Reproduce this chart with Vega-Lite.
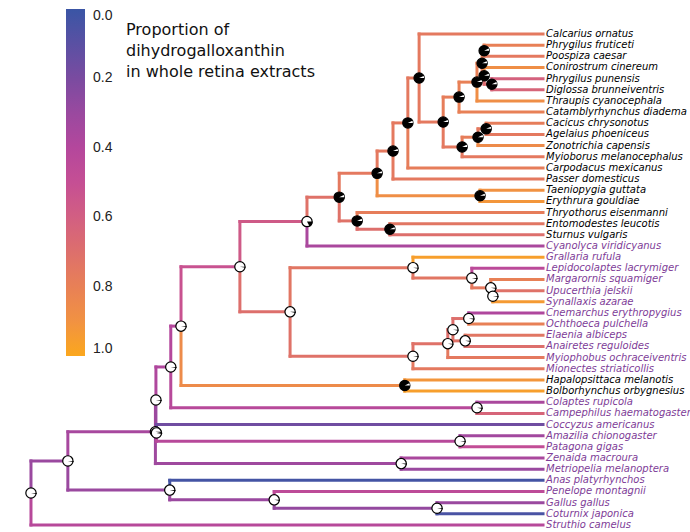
{
  "$schema": "https://vega.github.io/schema/vega-lite/v6.json",
  "width": 690,
  "height": 532,
  "padding": 0,
  "autosize": {"type": "none"},
  "background": "white",
  "config": {"view": {"stroke": null}},
  "title": {
    "text": ["Proportion of", "dihydrogalloxanthin", "in whole retina extracts"],
    "orient": "none", "anchor": "start", "frame": "group", "offset": 0,
    "dx": 126, "dy": 22, "align": "left", "baseline": "top",
    "font": "DejaVu Sans", "fontSize": 16, "fontWeight": "normal", "lineHeight": 21, "color": "#111111"
  },
  "resolve": {"scale": {"theta": "independent"}},
  "data": {"values": [
    {"id": "root", "x": 0, "y": 42.13, "pb": 0.03},
    {"id": "LL", "x": 7.2, "y": 39.26, "px": 0, "py": 42.13, "v": 0.3, "pb": 0.03},
    {"id": "GA", "x": 27.1, "y": 41.875, "px": 7.2, "py": 39.26, "v": 0.3, "pb": 0.03},
    {"id": "GF", "x": 47.5, "y": 42.75, "px": 27.1, "py": 41.875, "v": 0.3, "pb": 0.03},
    {"id": "PH", "x": 79.3, "y": 43.5, "px": 47.5, "py": 42.75, "v": 0.28, "pb": 0.03},
    {"id": "JJ", "x": 24.3, "y": 36.65, "px": 7.2, "py": 39.26, "v": 0.35, "pb": 0.03},
    {"id": "II", "x": 24.4, "y": 33.8, "px": 24.3, "py": 36.65, "v": 0.36, "pb": 0.03},
    {"id": "NN", "x": 24.5, "y": 36.75, "px": 24.4, "py": 33.8, "v": 0.3, "pb": 0.03},
    {"id": "DV", "x": 72.3, "y": 39.5, "px": 24.3, "py": 36.65, "v": 0.32, "pb": 0.03},
    {"id": "HB", "x": 83.8, "y": 37.5, "px": 24.5, "py": 36.75, "v": 0.42, "pb": 0.03},
    {"id": "GG", "x": 27.3, "y": 30.84, "px": 24.4, "py": 33.8, "v": 0.38, "pb": 0.03},
    {"id": "HH", "x": 87.1, "y": 34.5, "px": 27.3, "py": 30.84, "v": 0.42, "pb": 0.03},
    {"id": "EE", "x": 29.3, "y": 27.18, "px": 27.3, "py": 30.84, "v": 0.4, "pb": 0.03},
    {"id": "FF", "x": 73.0, "y": 32.5, "px": 29.3, "py": 27.18, "v": 0.86, "pb": 0.93},
    {"id": "T", "x": 40.8, "y": 21.86, "px": 29.3, "py": 27.18, "v": 0.52, "pb": 0.03},
    {"id": "U", "x": 50.6, "y": 25.9, "px": 40.8, "py": 21.86, "v": 0.7, "pb": 0.03},
    {"id": "V", "x": 74.6, "y": 21.94, "px": 50.6, "py": 25.9, "v": 0.74, "pb": 0.03},
    {"id": "X", "x": 86.1, "y": 22.875, "px": 74.6, "py": 21.94, "v": 0.74, "pb": 0.03},
    {"id": "Y", "x": 89.8, "y": 23.75, "px": 86.1, "py": 22.875, "v": 0.76, "pb": 0.03},
    {"id": "Z", "x": 90.2, "y": 24.5, "px": 89.8, "py": 23.75, "v": 0.76, "pb": 0.03},
    {"id": "W", "x": 74.6, "y": 29.875, "px": 50.6, "py": 25.9, "v": 0.72, "pb": 0.03},
    {"id": "AA", "x": 81.4, "y": 28.75, "px": 74.6, "py": 29.875, "v": 0.72, "pb": 0.03},
    {"id": "DD", "x": 82.4, "y": 27.5, "px": 81.4, "py": 28.75, "v": 0.7, "pb": 0.03},
    {"id": "BB", "x": 85.5, "y": 26.5, "px": 82.4, "py": 27.5, "v": 0.7, "pb": 0.03},
    {"id": "CC", "x": 84.8, "y": 28.5, "px": 82.4, "py": 27.5, "v": 0.72, "pb": 0.03},
    {"id": "S", "x": 53.9, "y": 17.81, "px": 40.8, "py": 21.86, "v": 0.57, "pb": 0.17},
    {"id": "P", "x": 60.2, "y": 15.62, "px": 53.9, "py": 17.81, "v": 0.72, "pb": 0.93},
    {"id": "Q", "x": 63.7, "y": 17.75, "px": 60.2, "py": 15.62, "v": 0.72, "pb": 0.93},
    {"id": "R", "x": 70.1, "y": 18.5, "px": 63.7, "py": 17.75, "v": 0.7, "pb": 0.93},
    {"id": "N", "x": 67.6, "y": 13.49, "px": 60.2, "py": 15.62, "v": 0.76, "pb": 0.93},
    {"id": "O", "x": 87.7, "y": 15.5, "px": 67.6, "py": 13.49, "v": 0.88, "pb": 0.93},
    {"id": "M", "x": 70.7, "y": 11.49, "px": 67.6, "py": 13.49, "v": 0.76, "pb": 0.93},
    {"id": "L", "x": 73.6, "y": 8.97, "px": 70.7, "py": 11.49, "v": 0.76, "pb": 0.93},
    {"id": "A", "x": 75.8, "y": 4.945, "px": 73.6, "py": 8.97, "v": 0.76, "pb": 0.93},
    {"id": "B", "x": 80.5, "y": 8.89, "px": 75.8, "py": 4.945, "v": 0.76, "pb": 0.93},
    {"id": "C", "x": 83.6, "y": 6.656, "px": 80.5, "py": 8.89, "v": 0.78, "pb": 0.93},
    {"id": "D", "x": 84.2, "y": 11.125, "px": 80.5, "py": 8.89, "v": 0.76, "pb": 0.93},
    {"id": "E", "x": 87.1, "y": 5.3125, "px": 83.6, "py": 6.656, "v": 0.8, "pb": 0.93},
    {"id": "F", "x": 88.1, "y": 3.625, "px": 87.1, "py": 5.3125, "v": 0.8, "pb": 0.93},
    {"id": "G", "x": 88.5, "y": 2.5, "px": 88.1, "py": 3.625, "v": 0.8, "pb": 0.93},
    {"id": "I", "x": 88.5, "y": 4.75, "px": 88.1, "py": 3.625, "v": 0.78, "pb": 0.93},
    {"id": "H", "x": 90.0, "y": 5.5, "px": 88.5, "py": 4.75, "v": 0.68, "pb": 0.93},
    {"id": "J", "x": 87.3, "y": 10.25, "px": 84.2, "py": 11.125, "v": 0.78, "pb": 0.93},
    {"id": "K", "x": 88.9, "y": 9.5, "px": 87.3, "py": 10.25, "v": 0.76, "pb": 0.93},
    {"label": "Calcarius ornatus", "x": 100, "y": 1, "px": 75.8, "py": 4.945, "v": 0.76, "grp": "b"},
    {"label": "Phrygilus fruticeti", "x": 100, "y": 2, "px": 88.5, "py": 2.5, "v": 0.8, "grp": "b"},
    {"label": "Poospiza caesar", "x": 100, "y": 3, "px": 88.5, "py": 2.5, "v": 0.76, "grp": "b"},
    {"label": "Conirostrum cinereum", "x": 100, "y": 4, "px": 88.5, "py": 4.75, "v": 0.88, "grp": "b"},
    {"label": "Phrygilus punensis", "x": 100, "y": 5, "px": 90.0, "py": 5.5, "v": 0.62, "grp": "b"},
    {"label": "Diglossa brunneiventris", "x": 100, "y": 6, "px": 90.0, "py": 5.5, "v": 0.64, "grp": "b"},
    {"label": "Thraupis cyanocephala", "x": 100, "y": 7, "px": 87.1, "py": 5.3125, "v": 0.88, "grp": "b"},
    {"label": "Catamblyrhynchus diadema", "x": 100, "y": 8, "px": 83.6, "py": 6.656, "v": 0.8, "grp": "b"},
    {"label": "Cacicus chrysonotus", "x": 100, "y": 9, "px": 88.9, "py": 9.5, "v": 0.78, "grp": "b"},
    {"label": "Agelaius phoeniceus", "x": 100, "y": 10, "px": 88.9, "py": 9.5, "v": 0.76, "grp": "b"},
    {"label": "Zonotrichia capensis", "x": 100, "y": 11, "px": 87.3, "py": 10.25, "v": 0.86, "grp": "b"},
    {"label": "Myioborus melanocephalus", "x": 100, "y": 12, "px": 84.2, "py": 11.125, "v": 0.76, "grp": "b"},
    {"label": "Carpodacus mexicanus", "x": 100, "y": 13, "px": 73.6, "py": 8.97, "v": 0.78, "grp": "b"},
    {"label": "Passer domesticus", "x": 100, "y": 14, "px": 70.7, "py": 11.49, "v": 0.76, "grp": "b"},
    {"label": "Taeniopygia guttata", "x": 100, "y": 15, "px": 87.7, "py": 15.5, "v": 0.9, "grp": "b"},
    {"label": "Erythrura gouldiae", "x": 100, "y": 16, "px": 87.7, "py": 15.5, "v": 0.92, "grp": "b"},
    {"label": "Thryothorus eisenmanni", "x": 100, "y": 17, "px": 63.7, "py": 17.75, "v": 0.78, "grp": "b"},
    {"label": "Entomodestes leucotis", "x": 100, "y": 18, "px": 70.1, "py": 18.5, "v": 0.74, "grp": "b"},
    {"label": "Sturnus vulgaris", "x": 100, "y": 19, "px": 70.1, "py": 18.5, "v": 0.7, "grp": "b"},
    {"label": "Cyanolyca viridicyanus", "x": 100, "y": 20, "px": 53.9, "py": 17.81, "v": 0.36, "grp": "p"},
    {"label": "Grallaria rufula", "x": 100, "y": 21, "px": 74.6, "py": 21.94, "v": 0.96, "grp": "p"},
    {"label": "Lepidocolaptes lacrymiger", "x": 100, "y": 22, "px": 86.1, "py": 22.875, "v": 0.44, "grp": "p"},
    {"label": "Margarornis squamiger", "x": 100, "y": 23, "px": 89.8, "py": 23.75, "v": 0.8, "grp": "p"},
    {"label": "Upucerthia jelskii", "x": 100, "y": 24, "px": 90.2, "py": 24.5, "v": 0.72, "grp": "p"},
    {"label": "Synallaxis azarae", "x": 100, "y": 25, "px": 90.2, "py": 24.5, "v": 0.94, "grp": "p"},
    {"label": "Cnemarchus erythropygius", "x": 100, "y": 26, "px": 85.5, "py": 26.5, "v": 0.38, "grp": "p"},
    {"label": "Ochthoeca pulchella", "x": 100, "y": 27, "px": 85.5, "py": 26.5, "v": 0.8, "grp": "p"},
    {"label": "Elaenia albiceps", "x": 100, "y": 28, "px": 84.8, "py": 28.5, "v": 0.74, "grp": "p"},
    {"label": "Anairetes reguloides", "x": 100, "y": 29, "px": 84.8, "py": 28.5, "v": 0.7, "grp": "p"},
    {"label": "Myiophobus ochraceiventris", "x": 100, "y": 30, "px": 81.4, "py": 28.75, "v": 0.76, "grp": "p"},
    {"label": "Mionectes striaticollis", "x": 100, "y": 31, "px": 74.6, "py": 29.875, "v": 0.76, "grp": "p"},
    {"label": "Hapalopsittaca melanotis", "x": 100, "y": 32, "px": 73.0, "py": 32.5, "v": 0.92, "grp": "b"},
    {"label": "Bolborhynchus orbygnesius", "x": 100, "y": 33, "px": 73.0, "py": 32.5, "v": 0.96, "grp": "b"},
    {"label": "Colaptes rupicola", "x": 100, "y": 34, "px": 87.1, "py": 34.5, "v": 0.36, "grp": "p"},
    {"label": "Campephilus haematogaster", "x": 100, "y": 35, "px": 87.1, "py": 34.5, "v": 0.64, "grp": "p"},
    {"label": "Coccyzus americanus", "x": 100, "y": 36, "px": 24.5, "py": 36.75, "v": 0.17, "grp": "p"},
    {"label": "Amazilia chionogaster", "x": 100, "y": 37, "px": 83.8, "py": 37.5, "v": 0.33, "grp": "p"},
    {"label": "Patagona gigas", "x": 100, "y": 38, "px": 83.8, "py": 37.5, "v": 0.48, "grp": "p"},
    {"label": "Zenaida macroura", "x": 100, "y": 39, "px": 72.3, "py": 39.5, "v": 0.36, "grp": "p"},
    {"label": "Metriopelia melanoptera", "x": 100, "y": 40, "px": 72.3, "py": 39.5, "v": 0.3, "grp": "p"},
    {"label": "Anas platyrhynchos", "x": 100, "y": 41, "px": 27.1, "py": 41.875, "v": 0.03, "grp": "p"},
    {"label": "Penelope montagnii", "x": 100, "y": 42, "px": 47.5, "py": 42.75, "v": 0.45, "grp": "p"},
    {"label": "Gallus gallus", "x": 100, "y": 43, "px": 79.3, "py": 43.5, "v": 0.3, "grp": "p"},
    {"label": "Coturnix japonica", "x": 100, "y": 44, "px": 79.3, "py": 43.5, "v": 0.05, "grp": "p"},
    {"label": "Struthio camelus", "x": 100, "y": 45, "px": 0, "py": 42.13, "v": 0.42, "grp": "p"}
  ]},
  "layer": [
    {
      "transform": [{"filter": "datum.px != null"}],
      "mark": {"type": "rule", "strokeWidth": 3, "strokeCap": "square"},
      "encoding": {
        "x": {"field": "px", "type": "quantitative", "scale": {"domain": [-6.05, 128.7], "nice": false, "zero": false}, "axis": null},
        "y": {"field": "py", "type": "quantitative", "scale": {"domain": [-2.047, 45.63], "nice": false, "zero": false, "reverse": true}, "axis": null},
        "y2": {"field": "y"},
        "color": {
          "field": "v", "type": "quantitative",
          "scale": {"domain": [1, 0], "interpolate": "rgb", "range": ["#fba71d", "#f19242", "#e88056", "#dd6f6c", "#d25f82", "#c54f94", "#b4479c", "#9a499f", "#7a4ba0", "#5a50a3", "#3a55a5"]},
          "legend": {
            "orient": "none", "legendX": 66, "legendY": 9, "direction": "vertical",
            "gradientLength": 347, "gradientThickness": 19, "gradientStrokeWidth": 0,
            "values": [0, 0.2, 0.4, 0.6, 0.8, 1], "format": ".1f",
            "labelFont": "Liberation Sans", "labelFontSize": 14, "labelColor": "#222222", "labelOffset": 8, "labelOverlap": false,
            "title": null, "padding": 0
          }
        }
      }
    },
    {
      "transform": [{"filter": "datum.px != null"}],
      "mark": {"type": "rule", "strokeWidth": 3, "strokeCap": "square"},
      "encoding": {
        "x": {"field": "px", "type": "quantitative"},
        "x2": {"field": "x"},
        "y": {"field": "y", "type": "quantitative"},
        "color": {"field": "v", "type": "quantitative"}
      }
    },
    {
      "transform": [{"filter": "datum.pb != null && datum.pb < 0.5"}],
      "mark": {"type": "point", "shape": "circle", "filled": true, "fill": "white", "stroke": "black", "strokeWidth": 1.2, "size": 106, "opacity": 1},
      "encoding": {
        "x": {"field": "x", "type": "quantitative"},
        "y": {"field": "y", "type": "quantitative"}
      }
    },
    {
      "transform": [{"filter": "datum.pb != null && datum.pb < 0.5"}],
      "mark": {"type": "arc", "radius": 5.8, "fill": "black", "stroke": null},
      "encoding": {
        "x": {"field": "x", "type": "quantitative"},
        "y": {"field": "y", "type": "quantitative"},
        "theta": {"field": "pb", "type": "quantitative", "stack": null, "scale": {"domain": [0, 0.25], "range": [1.5708, 3.1416], "zero": false, "nice": false}},
        "theta2": {"datum": 0}
      }
    },
    {
      "transform": [{"filter": "datum.pb != null && datum.pb >= 0.5"}],
      "mark": {"type": "point", "shape": "circle", "filled": true, "fill": "black", "stroke": "black", "strokeWidth": 1.2, "size": 106, "opacity": 1},
      "encoding": {
        "x": {"field": "x", "type": "quantitative"},
        "y": {"field": "y", "type": "quantitative"}
      }
    },
    {
      "transform": [{"filter": "datum.pb != null && datum.pb >= 0.5"}],
      "mark": {"type": "arc", "radius": 5.0, "fill": "white", "stroke": null},
      "encoding": {
        "x": {"field": "x", "type": "quantitative"},
        "y": {"field": "y", "type": "quantitative"},
        "theta": {"field": "pb", "type": "quantitative", "stack": null, "scale": {"domain": [0.75, 1], "range": [0, 1.5708], "zero": false, "nice": false}},
        "theta2": {"datum": 1}
      }
    },
    {
      "transform": [{"filter": "datum.grp == 'b'"}],
      "mark": {"type": "text", "align": "left", "baseline": "middle", "dx": 3, "font": "DejaVu Sans", "fontStyle": "italic", "fontSize": 10, "color": "#000000"},
      "encoding": {
        "x": {"field": "x", "type": "quantitative"},
        "y": {"field": "y", "type": "quantitative"},
        "text": {"field": "label"}
      }
    },
    {
      "transform": [{"filter": "datum.grp == 'p'"}],
      "mark": {"type": "text", "align": "left", "baseline": "middle", "dx": 3, "font": "DejaVu Sans", "fontStyle": "italic", "fontSize": 10, "color": "#7e3c97"},
      "encoding": {
        "x": {"field": "x", "type": "quantitative"},
        "y": {"field": "y", "type": "quantitative"},
        "text": {"field": "label"}
      }
    }
  ]
}
